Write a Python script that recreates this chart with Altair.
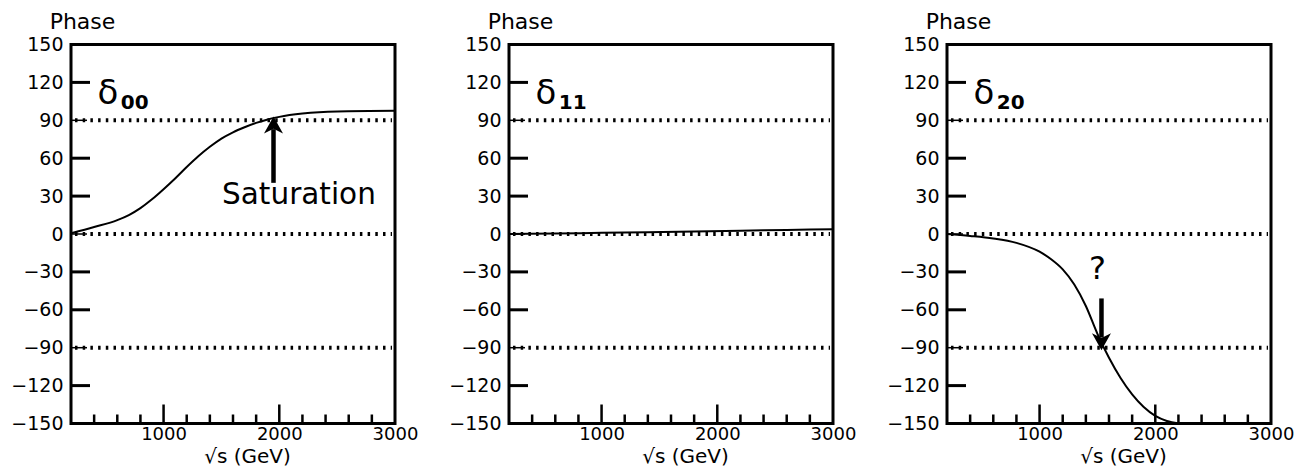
import altair as alt
import pandas as pd

# ---------------- data ----------------
X_LABELS = [1000, 2000, 3000]
X_TICKS_MAJOR = [1000, 2000]
X_TICKS_MINOR = [400, 600, 800, 1200, 1400, 1600, 1800, 2200, 2400, 2600, 2800]
Y_LABELS = [-150, -120, -90, -60, -30, 0, 30, 60, 90, 120, 150]
Y_TICKS = [120, 60, 30, -30, -60, -120]
REF_LINES = [90, 0, -90]

d00_x = [200, 400, 600, 700, 800, 900, 1000, 1100, 1200, 1300, 1400, 1500,
         1600, 1700, 1800, 1900, 2000, 2200, 2500, 3000]
d00_y = [0.5, 5.5, 11, 15, 20.5, 27.5, 35.5, 44, 53, 61.5, 69, 75.5,
         80.5, 84.5, 88, 90.7, 92.7, 95.3, 97, 97.5]

d11_x = [200, 600, 1000, 1400, 1800, 2200, 2600, 3000]
d11_y = [0, 0.4, 0.9, 1.4, 2.0, 2.6, 3.2, 3.8]

d20_x = [200, 400, 600, 800, 1000, 1100, 1200, 1300, 1400, 1500, 1600,
         1700, 1800, 1900, 2000, 2100, 2200]
d20_y = [0, -1.5, -3.5, -7, -14, -20, -28, -40, -57, -79, -98,
         -114, -127, -137, -144, -148, -150]

subscripts = ["00", "11", "20"]

sat_text = {"x": [2170], "y": [24], "t": ["Saturation"]}
sat_arrow = {"x": [1950], "y0": [40.5], "y1": [83], "tip": [93]}
q_text = {"x": [1500], "y": [-36], "t": ["?"]}
q_arrow = {"x": [1535], "y0": [-51], "y1": [-82], "tip": [-92]}

# ---------------- chart ----------------
W, H = 324, 379
FONT = "DejaVu Sans"
xscale = alt.Scale(domain=[200, 3000], nice=False, zero=False)
yscale = alt.Scale(domain=[-150, 150], nice=False, zero=False)

ARROW_UP = "M0,0 L1,1.8 L0,1.3 L-1,1.8 Z"
ARROW_DOWN = "M0,0 L1,-1.8 L0,-1.3 L-1,-1.8 Z"

XAXIS = alt.Axis(values=X_LABELS, format="d", title="√s (GeV)",
                 titleX=176, titleY=38.5, titleAlign="center",
                 titleBaseline="alphabetic", labelPadding=2,
                 labelFont=FONT, labelFontSize=18, labelColor="black",
                 titleFont=FONT, titleFontSize=20, titleFontWeight="normal",
                 titleColor="black",
                 ticks=False, domain=False, grid=False,
                 labelFlush=False)
YAXIS = alt.Axis(values=Y_LABELS, title="Phase", titleAngle=0,
                 titleX=11, titleY=-16, titleAlign="center",
                 titleBaseline="alphabetic", labelPadding=8,
                 labelFont=FONT, labelFontSize=19, labelColor="black",
                 titleFont=FONT, titleFontSize=22, titleFontWeight="normal",
                 titleColor="black",
                 ticks=False, domain=False, grid=False)


def X(f):
    return alt.X(f, scale=xscale, axis=XAXIS)


def Y(f):
    return alt.Y(f, scale=yscale, axis=YAXIS)


def panel(xs, ys, sub, extras):
    curve = alt.Chart(pd.DataFrame({"x": xs, "y": ys})).mark_line(
        color="black", strokeWidth=2, interpolate="monotone", clip=True
    ).encode(x=X("x:Q"), y=Y("y:Q"))

    refs = alt.Chart(pd.DataFrame({"y": REF_LINES})).mark_rule(
        color="black", strokeWidth=4, strokeDash=[2.5, 5.2]
    ).encode(x=alt.value(4), x2=alt.value(W - 3), y=Y("y:Q"))
    ref_ticks = alt.Chart(pd.DataFrame({"y": REF_LINES})).mark_rule(
        color="black", strokeWidth=1.5
    ).encode(x=alt.value(0), x2=alt.value(16), y=Y("y:Q"))
    yticks = alt.Chart(pd.DataFrame({"y": Y_TICKS})).mark_rule(
        color="black", strokeWidth=3
    ).encode(x=alt.value(0), x2=alt.value(19), y=Y("y:Q"))
    xmaj = alt.Chart(pd.DataFrame({"x": X_TICKS_MAJOR})).mark_rule(
        color="black", strokeWidth=2.5
    ).encode(x=X("x:Q"), y=alt.value(H), y2=alt.value(H - 19))
    xmin = alt.Chart(pd.DataFrame({"x": X_TICKS_MINOR})).mark_rule(
        color="black", strokeWidth=2.5
    ).encode(x=X("x:Q"), y=alt.value(H), y2=alt.value(H - 9))
    delta = alt.Chart(pd.DataFrame({"x": [430], "y": [103], "t": ["δ"]})).mark_text(
        font=FONT, fontSize=34, align="left", baseline="alphabetic", color="black"
    ).encode(x=X("x:Q"), y=Y("y:Q"), text="t:N")
    subt = alt.Chart(pd.DataFrame({"x": [630], "y": [99], "t": [sub]})).mark_text(
        font=FONT, fontSize=20, fontWeight="bold", align="left",
        baseline="alphabetic", color="black"
    ).encode(x=X("x:Q"), y=Y("y:Q"), text="t:N")
    layers = [curve, refs, ref_ticks, yticks, xmaj, xmin, delta, subt] + extras
    return alt.layer(*layers).properties(width=W, height=H)


def text_layer(d, size):
    return alt.Chart(pd.DataFrame(d)).mark_text(
        font=FONT, fontSize=size, align="center", baseline="alphabetic",
        color="black"
    ).encode(x=X("x:Q"), y=Y("y:Q"), text="t:N")


def arrow_layers(d, shape):
    df = pd.DataFrame(d)
    shaft = alt.Chart(df).mark_rule(color="black", strokeWidth=4.5).encode(
        x=X("x:Q"), y=Y("y0:Q"), y2="y1:Q",
    )
    head = alt.Chart(df).mark_point(
        shape=shape, filled=True, color="black", opacity=1, size=361,
        strokeWidth=0
    ).encode(x=X("x:Q"), y=Y("tip:Q"))
    return [shaft, head]


p1 = panel(d00_x, d00_y, subscripts[0],
           [text_layer(sat_text, 29.5)] + arrow_layers(sat_arrow, ARROW_UP))
p2 = panel(d11_x, d11_y, subscripts[1], [])
p3 = panel(d20_x, d20_y, subscripts[2],
           [text_layer(q_text, 32)] + arrow_layers(q_arrow, ARROW_DOWN))

chart = alt.hconcat(p1, p2, p3, spacing=114, bounds="flush").properties(
    padding={"left": 1, "top": 0.5, "right": 0, "bottom": 0}
).configure_view(
    stroke="black", strokeWidth=3
)

chart.save("out.html", embed_options={"renderer": "svg", "actions": False})
